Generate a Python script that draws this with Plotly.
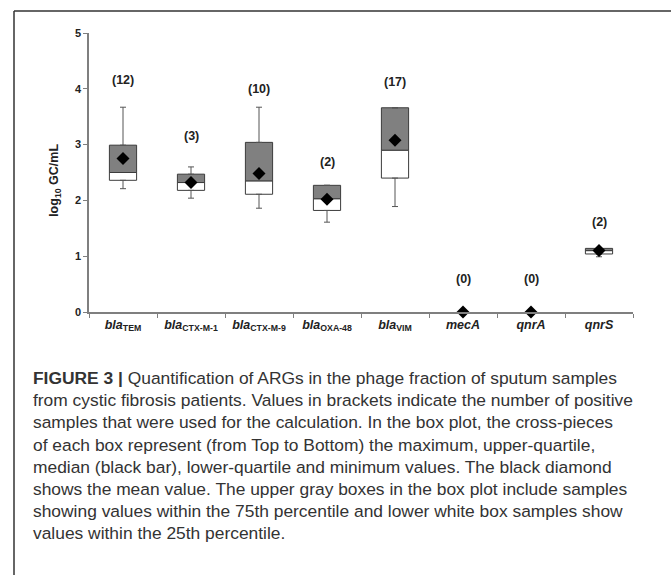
import plotly.graph_objects as go

# ---- data (log10 GC/mL) ----
categories = ["blaTEM", "blaCTX-M-1", "blaCTX-M-9", "blaOXA-48", "blaVIM", "mecA", "qnrA", "qnrS"]
tick_labels = [
    "<b><i>bla</i><sub>TEM</sub></b>",
    "<b><i>bla</i><sub>CTX-M-1</sub></b>",
    "<b><i>bla</i><sub>CTX-M-9</sub></b>",
    "<b><i>bla</i><sub>OXA-48</sub></b>",
    "<b><i>bla</i><sub>VIM</sub></b>",
    "<b><i>mecA</i></b>",
    "<b><i>qnrA</i></b>",
    "<b><i>qnrS</i></b>",
]
minimum = [2.21, 2.04, 1.86, 1.61, 1.89, None, None, 0.99]
lower_q = [2.36, 2.18, 2.11, 1.82, 2.40, None, None, 1.04]
median = [2.50, 2.32, 2.35, 2.03, 2.90, None, None, 1.10]
upper_q = [2.99, 2.47, 3.04, 2.27, 3.66, None, None, 1.14]
maximum = [3.67, 2.60, 3.67, 2.27, 3.66, None, None, 1.14]
mean = [2.75, 2.32, 2.48, 2.02, 3.08, 0.0, 0.0, 1.10]
n_positive = [12, 3, 10, 2, 17, 0, 0, 2]

# ---- layout geometry (pixels) ----
W_PX, H_PX = 671, 575
L, R, T, B = 89, 38, 33, 263
PW = W_PX - L - R
PH = H_PX - T - B


def px_x(px):
    return (px - L) / PW


def px_y(py):
    return (T + PH - py) / PH


def diff(a, b):
    return [None if (x is None or y is None) else x - y for x, y in zip(a, b)]


GREY_FILL = "#808080"
EDGE = "#3c3c3c"
AXIS = "#7f7f7f"
FONT = "Liberation Sans, Arial"

fig = go.Figure()

# lower (white) part of the box: lower quartile -> median
fig.add_trace(go.Bar(
    x=categories, base=lower_q, y=diff(median, lower_q), width=0.4,
    marker=dict(color="white", line=dict(color=EDGE, width=1)),
    showlegend=False, hoverinfo="skip",
))
# upper (grey) part of the box: median -> upper quartile
fig.add_trace(go.Bar(
    x=categories, base=median, y=diff(upper_q, median), width=0.4,
    marker=dict(color=GREY_FILL, line=dict(color=EDGE, width=1)),
    showlegend=False, hoverinfo="skip",
))
# upper whisker
fig.add_trace(go.Scatter(
    x=categories, y=upper_q, mode="markers",
    marker=dict(size=1, color="rgba(0,0,0,0)"),
    error_y=dict(type="data", symmetric=False, array=diff(maximum, upper_q),
                 arrayminus=[0 if v is not None else None for v in upper_q],
                 color="#555555", thickness=1, width=3),
    showlegend=False, hoverinfo="skip",
))
# lower whisker
fig.add_trace(go.Scatter(
    x=categories, y=lower_q, mode="markers",
    marker=dict(size=1, color="rgba(0,0,0,0)"),
    error_y=dict(type="data", symmetric=False, array=[0 if v is not None else None for v in lower_q],
                 arrayminus=diff(lower_q, minimum),
                 color="#555555", thickness=1, width=3),
    showlegend=False, hoverinfo="skip",
))
# mean diamonds
fig.add_trace(go.Scatter(
    x=categories, y=mean, mode="markers", cliponaxis=False,
    marker=dict(symbol="diamond", size=10, color="black"),
    showlegend=False, hoverinfo="skip",
))

# count labels above each box
label_y = [4.16, 3.15, 4.00, 2.69, 4.13, 0.59, 0.59, 1.62]
annotations = []
for c, n, ly in zip(categories, n_positive, label_y):
    annotations.append(dict(
        x=c, y=ly, xref="x", yref="y", text=f"<b>({n})</b>", showarrow=False,
        font=dict(family=FONT, size=12.5, color="#222222"),
        xanchor="center", yanchor="middle",
    ))

# y-axis title
annotations.append(dict(
    x=0, xref="paper", xshift=-34, y=2.35, yref="y",
    text="<b>log<sub>10</sub> GC/mL</b>", textangle=-90, showarrow=False,
    font=dict(family=FONT, size=12.5, color="#222222"),
    xanchor="center", yanchor="middle",
))

# caption
caption_lines = [
    "<b>FIGURE 3 |</b> Quantification of ARGs in the phage fraction of sputum samples",
    "from cystic fibrosis patients. Values in brackets indicate the number of positive",
    "samples that were used for the calculation. In the box plot, the cross-pieces",
    "of each box represent (from Top to Bottom) the maximum, upper-quartile,",
    "median (black bar), lower-quartile and minimum values. The black diamond",
    "shows the mean value. The upper gray boxes in the box plot include samples",
    "showing values within the 75th percentile and lower white box samples show",
    "values within the 25th percentile.",
]
for i, line in enumerate(caption_lines):
    annotations.append(dict(
        x=px_x(31), y=px_y(378 + i * 22.2), xref="paper", yref="paper",
        text=line, showarrow=False, xanchor="left", yanchor="middle",
        font=dict(family=FONT, size=17.4, color="#333333"),
    ))

# frame lines (left and top)
shapes = [
    dict(type="line", xref="paper", yref="paper", x0=px_x(14), x1=px_x(14),
         y0=px_y(11), y1=px_y(576), line=dict(color="#333333", width=1.5)),
    dict(type="line", xref="paper", yref="paper", x0=px_x(14), x1=px_x(672),
         y0=px_y(11), y1=px_y(11), line=dict(color="#333333", width=1.5)),
]

fig.update_layout(
    width=W_PX, height=H_PX,
    margin=dict(l=L, r=R, t=T, b=B, pad=0),
    paper_bgcolor="white", plot_bgcolor="white",
    barmode="overlay",
    annotations=annotations, shapes=shapes,
    font=dict(family=FONT, color="#222222"),
)
fig.update_xaxes(
    type="category", categoryorder="array", categoryarray=categories,
    tickmode="array", tickvals=categories, ticktext=tick_labels,
    tickson="boundaries", ticks="outside", ticklen=4, tickcolor=AXIS,
    showline=True, linecolor=AXIS, linewidth=1.5, showgrid=False, zeroline=False,
    tickfont=dict(family=FONT, size=12.5, color="#222222"),
    range=[-0.5, 7.5], fixedrange=True,
)
fig.update_yaxes(
    range=[0, 5], dtick=1, tick0=0, ticks="outside", ticklen=4, tickcolor=AXIS,
    showline=True, linecolor=AXIS, linewidth=1.5, showgrid=False, zeroline=False,
    tickfont=dict(family=FONT, size=11, color="#222222"),
    tickprefix="<b>", ticksuffix="</b>", fixedrange=True,
)

fig.write_html("out.html")
